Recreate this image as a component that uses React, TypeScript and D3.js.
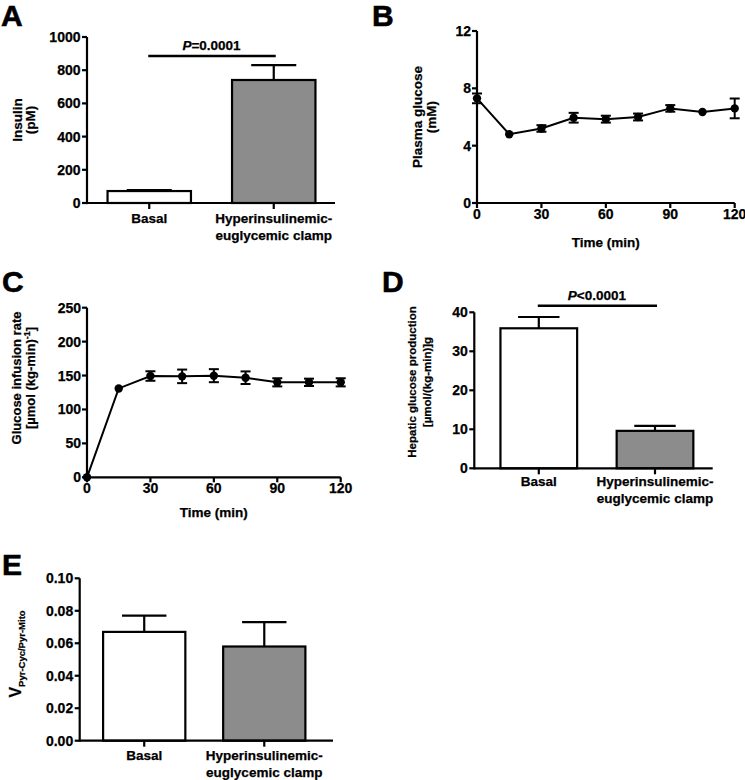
import React from "react";
import * as d3 from "d3";

const FONT = "'Liberation Sans', Arial, Helvetica, sans-serif";

// ---- data ----
const categoryLines = [["Basal"], ["Hyperinsulinemic-", "euglycemic clamp"]];
const barFills = ["#ffffff", "#8c8c8c"];

const insulinMean = [72, 741];
const insulinSem = [6, 90];
const insulinTicks = [0, 200, 400, 600, 800, 1000];

const hgpMean = [35.9, 9.6];
const hgpSem = [2.9, 1.3];
const hgpTicks = [0, 10, 20, 30, 40];

const pyrMean = [0.067, 0.058];
const pyrSem = [0.01, 0.015];
const pyrTicks = [0, 0.02, 0.04, 0.06, 0.08, 0.1];

const timeMin = [0, 15, 30, 45, 60, 75, 90, 105, 120];
const timeTicks = [0, 30, 60, 90, 120];

const glucoseMean = [7.3, 4.8, 5.2, 5.95, 5.85, 6.0, 6.6, 6.35, 6.6];
const glucoseSem = [0.34, 0.05, 0.23, 0.34, 0.24, 0.24, 0.23, 0.05, 0.69];
const glucoseTicks = [0, 4, 8, 12];

const girMean = [0, 131, 149.3, 148.8, 149.8, 146.8, 140, 140, 140];
const girSem = [0, 0, 7, 10, 9.6, 9.3, 6, 5.4, 6];
const girTicks = [0, 50, 100, 150, 200, 250];

const SW = 2.2;
const TICK_FS = 14;
const LAB_FS = 13.5;
const TXT_STROKE = 0.25;

type YLabelLine = { content: React.ReactNode; x: number; size: number };

function YLabel({ lines, cy }: { lines: YLabelLine[]; cy: number }) {
  return (
    <g>
      {lines.map((l, i) => (
        <text
          key={i}
          transform={`translate(${l.x},${cy}) rotate(-90)`}
          textAnchor="middle"
          fontFamily={FONT}
          fontWeight="bold"
          fontSize={l.size}
          stroke="#000"
          strokeWidth={TXT_STROKE}
        >
          {l.content}
        </text>
      ))}
    </g>
  );
}

function Letter({ t, x, y }: { t: string; x: number; y: number }) {
  return (
    <text x={x} y={y} fontFamily={FONT} fontWeight="bold" fontSize={30} stroke="#000" strokeWidth={0.6}>
      {t}
    </text>
  );
}

function T(props: any) {
  return <text fontFamily={FONT} fontWeight="bold" stroke="#000" strokeWidth={TXT_STROKE} {...props} />;
}

function BarPanel(props: {
  means: number[];
  sems: number[];
  ticks: number[];
  fmt: (v: number) => string;
  yMax: number;
  axisX: number;
  xEnd: number;
  bandRange: [number, number];
  barFrac: number;
  yBottom: number;
  yTop: number;
  labelY: number;
  labelGap: number;
  sig?: { parts: React.ReactNode; y: number };
}) {
  const { means, sems, ticks, fmt, yMax, axisX, xEnd, bandRange, barFrac, yBottom, yTop, labelY, labelGap, sig } = props;
  const keys = categoryLines.map((l) => l.join(" "));
  const x = d3.scalePoint<string>().domain(keys).range(bandRange).padding(0.5);
  const y = d3.scaleLinear().domain([0, yMax]).range([yBottom, yTop]);
  const bw = x.step() * barFrac;
  const cap = bw * 0.27;
  return (
    <g>
      {keys.map((k, i) => {
        const cx = x(k) as number;
        const top = y(means[i]);
        const et = y(means[i] + sems[i]);
        return (
          <g key={k}>
            <line x1={cx} x2={cx} y1={top} y2={et} stroke="#000" strokeWidth={SW} />
            <line x1={cx - cap} x2={cx + cap} y1={et} y2={et} stroke="#000" strokeWidth={SW} />
            <rect x={cx - bw / 2} y={top} width={bw} height={y(0) - top} fill={barFills[i]} stroke="#000" strokeWidth={SW} />
            <line x1={cx} x2={cx} y1={yBottom} y2={yBottom + 6} stroke="#000" strokeWidth={SW} />
            {categoryLines[i].map((t, j) => (
              <T key={j} x={cx} y={labelY + j * labelGap} textAnchor="middle" fontSize={LAB_FS}>
                {t}
              </T>
            ))}
          </g>
        );
      })}
      <line x1={axisX} x2={axisX} y1={yTop} y2={yBottom + SW / 2} stroke="#000" strokeWidth={SW} />
      <line x1={axisX} x2={xEnd} y1={yBottom} y2={yBottom} stroke="#000" strokeWidth={SW} />
      {ticks.map((t) => (
        <g key={t}>
          <line x1={axisX - 5} x2={axisX} y1={y(t)} y2={y(t)} stroke="#000" strokeWidth={SW} />
          <T x={axisX - 6.5} y={y(t) + 5} textAnchor="end" fontSize={TICK_FS}>
            {fmt(t)}
          </T>
        </g>
      ))}
      {sig && (
        <g>
          <line x1={(x(keys[0]) as number) - 1} x2={(x(keys[1]) as number) + 2} y1={sig.y} y2={sig.y} stroke="#000" strokeWidth={2.6} />
          <T
            x={((x(keys[0]) as number) + (x(keys[1]) as number)) / 2}
            y={sig.y - 6}
            textAnchor="middle"
            fontSize={LAB_FS}
          >
            {sig.parts}
          </T>
        </g>
      )}
    </g>
  );
}

function LinePanel(props: {
  means: number[];
  sems: number[];
  ticks: number[];
  yMax: number;
  axisX: number;
  xEnd: number;
  yBottom: number;
  yTop: number;
  titleY: number;
}) {
  const { means, sems, ticks, yMax, axisX, xEnd, yBottom, yTop, titleY } = props;
  const x = d3.scaleLinear().domain([0, 120]).range([axisX, xEnd]);
  const y = d3.scaleLinear().domain([0, yMax]).range([yBottom, yTop]);
  const pts = timeMin.map((t, i) => [x(t), y(means[i])] as [number, number]);
  const path = d3.line()(pts) || "";
  const minErr = yMax * 0.008;
  return (
    <g>
      <line x1={axisX} x2={axisX} y1={yTop} y2={yBottom + SW / 2} stroke="#000" strokeWidth={SW} />
      <line x1={axisX} x2={xEnd} y1={yBottom} y2={yBottom} stroke="#000" strokeWidth={SW} />
      {ticks.map((t) => (
        <g key={t}>
          <line x1={axisX - 5} x2={axisX} y1={y(t)} y2={y(t)} stroke="#000" strokeWidth={SW} />
          <T x={axisX - 6} y={y(t) + 5} textAnchor="end" fontSize={TICK_FS}>
            {t}
          </T>
        </g>
      ))}
      {timeTicks.map((t) => (
        <g key={t}>
          <line x1={x(t)} x2={x(t)} y1={yBottom} y2={yBottom + 5} stroke="#000" strokeWidth={SW} />
          <T x={x(t)} y={yBottom + 16} textAnchor="middle" fontSize={TICK_FS}>
            {t}
          </T>
        </g>
      ))}
      <T x={(axisX + xEnd) / 2} y={titleY} textAnchor="middle" fontSize={LAB_FS}>
        Time (min)
      </T>
      <path d={path} fill="none" stroke="#000" strokeWidth={2} />
      {timeMin.map((t, i) =>
        sems[i] > minErr ? (
          <g key={t}>
            <line x1={x(t)} x2={x(t)} y1={y(means[i] - sems[i])} y2={y(means[i] + sems[i])} stroke="#000" strokeWidth={2} />
            <line x1={x(t) - 5} x2={x(t) + 5} y1={y(means[i] - sems[i])} y2={y(means[i] - sems[i])} stroke="#000" strokeWidth={2} />
            <line x1={x(t) - 5} x2={x(t) + 5} y1={y(means[i] + sems[i])} y2={y(means[i] + sems[i])} stroke="#000" strokeWidth={2} />
          </g>
        ) : null
      )}
      {pts.map((p, i) => (
        <circle key={i} cx={p[0]} cy={p[1]} r={4.2} fill="#000" />
      ))}
    </g>
  );
}

export default function App() {
  return (
    <svg width={745} height={780} style={{ position: "absolute", left: 0, top: 0, background: "#fff" }}>
      <rect width={745} height={780} fill="#fff" />
      {/* A */}
      <Letter t="A" x={1} y={26} />
      <YLabel
        cy={120}
        lines={[
          { content: "Insulin", x: 21.5, size: 13.5 },
          { content: "(pM)", x: 34.5, size: 13.5 },
        ]}
      />
      <BarPanel
        means={insulinMean}
        sems={insulinSem}
        ticks={insulinTicks}
        fmt={(v) => String(v)}
        yMax={1000}
        axisX={87}
        xEnd={335}
        bandRange={[87, 336]}
        barFrac={0.67}
        yBottom={203}
        yTop={37}
        labelY={222.5}
        labelGap={17}
        sig={{
          parts: (
            <>
              <tspan fontStyle="italic">P</tspan>=0.0001
            </>
          ),
          y: 56,
        }}
      />

      {/* B */}
      <Letter t="B" x={372} y={26} />
      <YLabel
        cy={117}
        lines={[
          { content: "Plasma glucose", x: 421.5, size: 13.5 },
          { content: "(mM)", x: 435.5, size: 13.5 },
        ]}
      />
      <LinePanel
        means={glucoseMean}
        sems={glucoseSem}
        ticks={glucoseTicks}
        yMax={12}
        axisX={477}
        xEnd={734.7}
        yBottom={203}
        yTop={31}
        titleY={247}
      />

      {/* C */}
      <Letter t="C" x={2} y={292} />
      <YLabel
        cy={378}
        lines={[
          { content: "Glucose infusion rate", x: 20.5, size: 13 },
          {
            content: (
              <>
                [µmol (kg-min)
                <tspan fontSize={9} dy={-5}>
                  -1
                </tspan>
                <tspan dy={5}>]</tspan>
              </>
            ),
            x: 35,
            size: 13,
          },
        ]}
      />
      <LinePanel
        means={girMean}
        sems={girSem}
        ticks={girTicks}
        yMax={250}
        axisX={87}
        xEnd={340.7}
        yBottom={477.3}
        yTop={307.7}
        titleY={517}
      />

      {/* D */}
      <Letter t="D" x={382} y={292} />
      <YLabel
        cy={382}
        lines={[
          { content: "Hepatic glucose production", x: 416, size: 11.5 },
          { content: "[µmol/(kg-min)]g", x: 430.5, size: 11.5 },
        ]}
      />
      <BarPanel
        means={hgpMean}
        sems={hgpSem}
        ticks={hgpTicks}
        fmt={(v) => String(v)}
        yMax={40}
        axisX={474.3}
        xEnd={712.7}
        bandRange={[480.7, 713.1]}
        barFrac={0.66}
        yBottom={468.3}
        yTop={312.3}
        labelY={486}
        labelGap={17}
        sig={{
          parts: (
            <>
              <tspan fontStyle="italic">P</tspan>&lt;0.0001
            </>
          ),
          y: 305.7,
        }}
      />

      {/* E */}
      <Letter t="E" x={2} y={575} />
      <YLabel
        cy={654}
        lines={[
          {
            content: (
              <>
                V
                <tspan fontSize={9.5} dy={3.5}>
                  Pyr-Cyc/Pyr-Mito
                </tspan>
              </>
            ),
            x: 21,
            size: 16,
          },
        ]}
      />
      <BarPanel
        means={pyrMean}
        sems={pyrSem}
        ticks={pyrTicks}
        fmt={(v) => v.toFixed(2)}
        yMax={0.1}
        axisX={79.7}
        xEnd={333}
        bandRange={[84.2, 324.3]}
        barFrac={0.685}
        yBottom={740.7}
        yTop={578.3}
        labelY={759.5}
        labelGap={17}
      />
    </svg>
  );
}
